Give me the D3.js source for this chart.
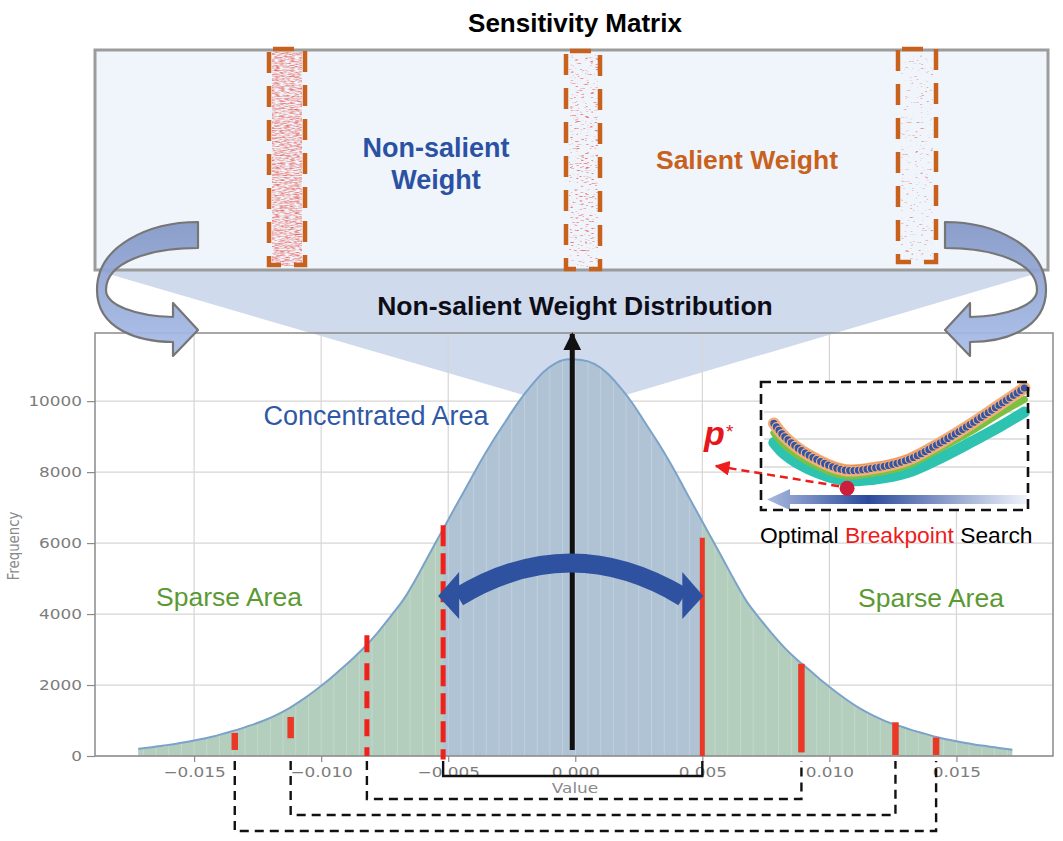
<!DOCTYPE html>
<html><head><meta charset="utf-8">
<script src="https://cdn.jsdelivr.net/npm/d3@7/dist/d3.min.js"></script>
<style>body{margin:0;background:#fff} svg{display:block}</style>
</head><body>
<svg id="c" width="1063" height="841"></svg>
<script>
// ---------------- data ----------------
const binStart = -0.0175, binWidth = 0.0005;
const frequency = [
  200,240,290,340,400,470,550,650,750,870,1000,1160,1350,1580,1840,2120,2430,2750,3100,3500,
  3950,4420,5020,5680,6330,6980,7620,8270,8870,9420,9960,10420,10820,11080,11180,
  11160,11050,10790,10400,9940,9390,8840,8240,7590,6930,6280,5630,4970,4350,3880,3440,
  3040,2700,2400,2090,1810,1550,1320,1130,970,850,730,630,530,450,380,320,270,220,170
];
const histRange = [-0.0172, 0.0172];
const xTicks = [-0.015, -0.010, -0.005, 0.000, 0.005, 0.010, 0.015];
const yTicks = [0, 2000, 4000, 6000, 8000, 10000];
const breakX      = [-0.0134, -0.0112, -0.0082, -0.0052, 0.0050, 0.0089, 0.0126, 0.0142];
const breakTop    = [650, 1100, 3400, 6500, 6150, 2600, 950, 520];
const breakBottom = [170, 500, 0, -100, 0, 100, 30, 30];
const breakDashed = [false, false, true, true, false, false, false, false];
const bracketPairs = [[-0.0052, 0.0050], [-0.0082, 0.0089], [-0.0112, 0.0126], [-0.0134, 0.0142]];
const bracketSolid = [true, false, false, false];
// inset (breakpoint search)
const insetT     = [0.015, 0.058, 0.15, 0.288, 0.404, 0.535, 0.662, 0.788, 0.892, 0.99];
const lossBlue   = [68, 56.7, 41.7, 29.2, 30.8, 37.5, 51.7, 68.3, 83.3, 97.5];
const lossOrange = [71.5, 60, 45, 32.5, 34, 40.8, 55, 71.5, 86.5, 100.5];
const lossGreen  = [60, 49.5, 36, 24.5, 26.5, 33, 47, 62, 76, 88];
const lossTeal   = [52, 42, 30, 20.5, 21.5, 27, 39, 53, 65, 77.5];
const optimalT = 0.30, optimalLoss = 14;

// ---------------- setup ----------------
const svg = d3.select("#c");
const defs = svg.append("defs");
const SANS = "'Liberation Sans', Arial, sans-serif";
const DJ = "'DejaVu Sans', sans-serif";
const STRETCH = 1.25;

const X = d3.scaleLinear().domain([-0.0189, 0.0188]).range([95, 1053]);
const Y = d3.scaleLinear().domain([0, 11920]).range([756, 333]);

// gradients
const ag = defs.append("linearGradient").attr("id","arrowGrad").attr("gradientUnits","userSpaceOnUse")
  .attr("x1",0).attr("y1",222).attr("x2",0).attr("y2",356);
ag.append("stop").attr("offset",0).attr("stop-color","#8497c6");
ag.append("stop").attr("offset",1).attr("stop-color","#a8bde9");
const sg = defs.append("linearGradient").attr("id","searchGrad").attr("gradientUnits","userSpaceOnUse")
  .attr("x1",767).attr("y1",0).attr("x2",1027).attr("y2",0);
sg.append("stop").attr("offset",0).attr("stop-color","#a9badf");
sg.append("stop").attr("offset",0.39).attr("stop-color","#2b4a9b");
sg.append("stop").attr("offset",1).attr("stop-color","#f0f4fb");

// noise filters for sensitivity columns
function noiseFilter(id, a, b, seed, color){
  const f = defs.append("filter").attr("id",id).attr("x","0%").attr("y","0%")
    .attr("width","100%").attr("height","100%").attr("color-interpolation-filters","sRGB");
  f.append("feTurbulence").attr("type","fractalNoise").attr("baseFrequency","0.2 0.85")
    .attr("numOctaves",2).attr("seed",seed).attr("result","t");
  f.append("feColorMatrix").attr("in","t").attr("type","matrix")
    .attr("values",`0 0 0 0 0  0 0 0 0 0  0 0 0 0 0  ${a} 0 0 0 ${b}`).attr("result","m");
  f.append("feFlood").attr("flood-color",color).attr("result","fl");
  f.append("feComposite").attr("in","fl").attr("in2","m").attr("operator","in");
}
noiseFilter("nDense", 2.0, -0.72, 4, "#e8605a");
noiseFilter("nSparse", 5, -2.95, 9, "#e87a76");
noiseFilter("nVery", 6, -3.9, 13, "#e09a98");

// clips
defs.append("clipPath").attr("id","histClip").append("rect")
  .attr("x",X(histRange[0])).attr("y",333).attr("width",X(histRange[1])-X(histRange[0])).attr("height",423);
defs.append("clipPath").attr("id","centerClip").append("rect")
  .attr("x",X(breakX[3])).attr("y",333).attr("width",X(breakX[4])-X(breakX[3])).attr("height",423);

// markers
defs.append("marker").attr("id","blackHead").attr("viewBox","0 0 10 10").attr("refX",9).attr("refY",5)
  .attr("markerUnits","userSpaceOnUse").attr("markerWidth",18).attr("markerHeight",18).attr("orient","auto")
  .append("path").attr("d","M0,0 L10,5 L0,10 Z").attr("fill","#111");
defs.append("marker").attr("id","redHead").attr("viewBox","0 0 10 10").attr("refX",9).attr("refY",5)
  .attr("markerUnits","userSpaceOnUse").attr("markerWidth",15).attr("markerHeight",15).attr("orient","auto")
  .append("path").attr("d","M0,0 L10,5 L0,10 Z").attr("fill","#ee1c1c");

// ---------------- plot background & funnel ----------------
svg.append("rect").attr("x",95).attr("y",333).attr("width",958).attr("height",423).attr("fill","#fff");
svg.append("polygon").attr("points","95,270 1048,270 575,410").attr("fill","#cbd7ea").attr("opacity",0.92);

// grid
const grid = svg.append("g").attr("stroke","#d6d6d6").attr("stroke-width",1.2);
grid.selectAll("line.v").data(xTicks).join("line").attr("x1",d=>X(d)).attr("x2",d=>X(d)).attr("y1",333).attr("y2",756);
grid.selectAll("line.h").data(yTicks).join("line").attr("y1",d=>Y(d)).attr("y2",d=>Y(d)).attr("x1",95).attr("x2",1053);

// ---------------- histogram ----------------
const bins = frequency.map((f,i)=>({x: binStart + binWidth*(i+0.5), f}));
const area = d3.area().x(d=>X(d.x)).y0(Y(0)).y1(d=>Y(d.f)).curve(d3.curveMonotoneX);
const line = d3.line().x(d=>X(d.x)).y(d=>Y(d.f)).curve(d3.curveMonotoneX);
defs.append("clipPath").attr("id","areaClip").append("path").attr("d",area(bins));

const hg = svg.append("g").attr("clip-path","url(#histClip)");
hg.append("path").attr("d",area(bins)).attr("fill","#b3cebd");
hg.append("g").attr("clip-path","url(#centerClip)").append("path").attr("d",area(bins)).attr("fill","#afc3d4");
const stripes = d3.range(bins.length+1).map(i=>binStart+i*binWidth);
hg.append("g").attr("clip-path","url(#areaClip)").selectAll("line").data(stripes).join("line")
  .attr("x1",d=>X(d)).attr("x2",d=>X(d)).attr("y1",333).attr("y2",756)
  .attr("stroke","#ffffff").attr("stroke-opacity",0.22).attr("stroke-width",1);
hg.append("path").attr("d",line(bins)).attr("fill","none").attr("stroke","#7ba2c9").attr("stroke-width",2);

// frame
svg.append("rect").attr("x",95).attr("y",333).attr("width",958).attr("height",423)
  .attr("fill","none").attr("stroke","#8a8a8a").attr("stroke-width",1.5);

// axes
const xAxis = svg.append("g").attr("transform","translate(0,756)")
  .call(d3.axisBottom(X).tickValues(xTicks).tickFormat(d3.format(".3f")).tickSize(6).tickPadding(5));
const yAxis = svg.append("g").attr("transform","translate(95,0)")
  .call(d3.axisLeft(Y).tickValues(yTicks).tickFormat(d3.format("d")).tickSize(8).tickPadding(2.4));
[xAxis,yAxis].forEach(a=>{
  a.select(".domain").remove();
  a.selectAll(".tick line").attr("stroke","#8a8a8a").attr("stroke-width",1.2);
  a.selectAll(".tick text").attr("fill","#7c7c7c").style("font-family",DJ).style("font-size","13.5px")
    .attr("transform",`scale(${STRETCH},1)`);
});
svg.append("text").attr("transform",`translate(575,793) scale(${STRETCH},1)`).attr("text-anchor","middle").attr("fill","#8a8a8a")
  .style("font-family",DJ).style("font-size","13.5px").text("Value");
svg.append("text").attr("transform","translate(19,546) rotate(-90) scale(1,1.15)").attr("text-anchor","middle").attr("fill","#8a8a8a")
  .style("font-family",DJ).style("font-size","13.3px").text("Frequency");

// ---------------- top panel ----------------
svg.append("text").attr("x",575).attr("y",32).attr("text-anchor","middle").attr("fill","#000")
  .style("font-family",SANS).style("font-weight","bold").style("font-size","26px").text("Sensitivity Matrix");
svg.append("rect").attr("x",95).attr("y",50).attr("width",953).attr("height",220)
  .attr("fill","#f0f5fc").attr("stroke","#9c9c9c").attr("stroke-width",3);

const cols = [
  {x:272, y:52, w:30, h:214, f:"nDense", bx:269, by:49, bw:36, bh:216},
  {x:569, y:55, w:29, h:213, f:"nSparse", bx:566, by:51, bw:34, bh:218},
  {x:901, y:55, w:32, h:206, f:"nVery", bx:898, by:49, bw:38, bh:213}
];
cols.forEach(c=>{
  svg.append("rect").attr("x",c.x).attr("y",c.y).attr("width",c.w).attr("height",c.h)
    .attr("fill","#fff").attr("filter",`url(#${c.f})`);
  svg.append("rect").attr("x",c.bx).attr("y",c.by).attr("width",c.bw).attr("height",c.bh)
    .attr("fill","none").attr("stroke","#c8611c").attr("stroke-width",4.5)
    .attr("stroke-dasharray","21 13").attr("stroke-dashoffset",-4);
});
svg.append("text").attr("x",436).attr("y",157).attr("text-anchor","middle").attr("fill","#2b52a2")
  .style("font-family",SANS).style("font-weight","bold").style("font-size","27px").text("Non-salient");
svg.append("text").attr("x",436).attr("y",189).attr("text-anchor","middle").attr("fill","#2b52a2")
  .style("font-family",SANS).style("font-weight","bold").style("font-size","27px").text("Weight");
svg.append("text").attr("x",747).attr("y",169).attr("text-anchor","middle").attr("fill","#c8611c")
  .style("font-family",SANS).style("font-weight","bold").style("font-size","26.5px").text("Salient Weight");

// curved arrows
const curvedArrow = "M198,222 C150,222 97,245 97,290 C97,330 140,342 173,342 L173,356 L198,330 L173,303 L173,317 C135,316 106,305 106,290 C106,262 150,248 198,248 Z";
svg.append("path").attr("d",curvedArrow).attr("fill","url(#arrowGrad)").attr("fill-opacity",0.93)
  .attr("stroke","#767676").attr("stroke-width",2.2).attr("stroke-linejoin","round");
svg.append("path").attr("d",curvedArrow).attr("transform","translate(1143,0) scale(-1,1)")
  .attr("fill","url(#arrowGrad)").attr("fill-opacity",0.93)
  .attr("stroke","#767676").attr("stroke-width",2.2).attr("stroke-linejoin","round");

svg.append("text").attr("x",575).attr("y",315).attr("text-anchor","middle").attr("fill","#0d0d18")
  .style("font-family",SANS).style("font-weight","bold").style("font-size","26.5px").text("Non-salient Weight Distribution");

// ---------------- annotations in plot ----------------
svg.append("text").attr("x",376).attr("y",425).attr("text-anchor","middle").attr("fill","#2f58a6")
  .style("font-family",SANS).style("font-size","27px").text("Concentrated Area");
svg.append("text").attr("x",229).attr("y",606).attr("text-anchor","middle").attr("fill","#5b9a32")
  .style("font-family",SANS).style("font-size","26.5px").text("Sparse Area");
svg.append("text").attr("x",931).attr("y",607).attr("text-anchor","middle").attr("fill","#5b9a32")
  .style("font-family",SANS).style("font-size","26.5px").text("Sparse Area");

// red breakpoint bars
breakX.forEach((bx,i)=>{
  svg.append("line").attr("x1",X(bx)).attr("x2",X(bx)).attr("y1",Y(breakTop[i])).attr("y2",Y(breakBottom[i]))
    .attr("stroke",breakDashed[i] ? "#f0201c" : "#ea3826")
    .attr("stroke-width", i===4 ? 5 : (breakDashed[i] ? 5 : 6.5))
    .attr("stroke-dasharray", breakDashed[i] ? (i===2 ? "17 11" : "21 7") : null);
});

// black vertical arrow
svg.append("line").attr("x1",X(0)-3).attr("x2",X(0)-3).attr("y1",750).attr("y2",334)
  .attr("stroke","#111").attr("stroke-width",5).attr("marker-end","url(#blackHead)");

// blue curved double arrow
const xl = X(breakX[3]) - 5, xr = X(breakX[4]) + 1;
svg.append("path").attr("d",`M${xl+20},597 Q${(xl+xr)/2},529 ${xr-20},597`)
  .attr("fill","none").attr("stroke","#2e52a0").attr("stroke-width",19);
svg.append("path").attr("d",`M${xl},596 L${xl+21},572 L${xl+21},619 Z`).attr("fill","#2e52a0");
svg.append("path").attr("d",`M${xr},596 L${xr-21},572 L${xr-21},619 Z`).attr("fill","#2e52a0");

// brackets below axis
const bracketY = [776, 799, 815, 831];
bracketPairs.forEach((p,i)=>{
  svg.append("path").attr("d",`M${X(p[0])},761 V${bracketY[i]} H${X(p[1])} V761`)
    .attr("fill","none").attr("stroke","#111").attr("stroke-width",2.4)
    .attr("stroke-dasharray", bracketSolid[i] ? null : "9 6");
});

// ---------------- inset ----------------
const IX = d3.scaleLinear().domain([0,1]).range([770,1027]);
const IY = d3.scaleLinear().domain([0,100]).range([505,385]);
svg.append("rect").attr("x",761).attr("y",382).attr("width",267).attr("height",128).attr("fill","#fff");
[412,439,467].forEach(gy=>svg.append("line").attr("x1",764).attr("x2",1026).attr("y1",gy).attr("y2",gy)
  .attr("stroke","#d9d9d9").attr("stroke-width",1.5));
const iline = d3.line().x(d=>IX(d[0])).y(d=>IY(d[1])).curve(d3.curveCatmullRom.alpha(0.5));
const zipT = arr => insetT.map((t,i)=>[t,arr[i]]);
svg.append("path").attr("d",iline(zipT(lossTeal))).attr("fill","none").attr("stroke","#2ec3b1").attr("stroke-width",11).attr("stroke-linecap","round");
svg.append("path").attr("d",iline(zipT(lossGreen))).attr("fill","none").attr("stroke","#7cc043").attr("stroke-width",7).attr("stroke-linecap","round");
svg.append("path").attr("d",iline(zipT(lossBlue))).attr("fill","none").attr("stroke","#f5b07a").attr("stroke-width",12).attr("stroke-linecap","round");
svg.append("path").attr("d",iline(zipT(lossOrange))).attr("fill","none").attr("stroke","#ef8230").attr("stroke-width",2.5);
const bluePath = svg.append("path").attr("d",iline(zipT(lossBlue))).attr("fill","none").attr("stroke","none");
const L = bluePath.node().getTotalLength();
const nDots = Math.round(L/4.4);
const dotPts = d3.range(nDots+1).map(k=>bluePath.node().getPointAtLength(L*k/nDots));
svg.append("g").selectAll("circle").data(dotPts).join("circle")
  .attr("cx",d=>d.x).attr("cy",d=>d.y).attr("r",4.2)
  .attr("fill","#3455a5").attr("stroke","#f5b07a").attr("stroke-width",1.2);
// search arrow
svg.append("path").attr("d","M1027,495 L790,495 L790,489 L767,499.5 L790,510 L790,504 L1027,504 Z").attr("fill","url(#searchGrad)");
// red dashed arrow and optimum
svg.append("line").attr("x1",IX(optimalT)-8).attr("y1",IY(optimalLoss)-2).attr("x2",716).attr("y2",466)
  .attr("stroke","#ee1c1c").attr("stroke-width",2.5).attr("stroke-dasharray","8 5").attr("marker-end","url(#redHead)");
svg.append("circle").attr("cx",IX(optimalT)).attr("cy",IY(optimalLoss)).attr("r",7.5).attr("fill","#cc1d3a");
svg.append("rect").attr("x",761).attr("y",382).attr("width",267).attr("height",128)
  .attr("fill","none").attr("stroke","#111").attr("stroke-width",2.6).attr("stroke-dasharray","10 6");
svg.append("text").attr("x",704).attr("y",445).attr("fill","#e8141c")
  .style("font-family",SANS).style("font-weight","bold").style("font-style","italic").style("font-size","34px").text("p");
svg.append("text").attr("x",726).attr("y",438).attr("fill","#e8141c")
  .style("font-family",SANS).style("font-size","19px").text("*");
const ot = svg.append("text").attr("x",760).attr("y",543).attr("fill","#000")
  .style("font-family",SANS).style("font-size","22.8px");
ot.append("tspan").text("Optimal ");
ot.append("tspan").attr("fill","#ee1c1c").text("Breakpoint");
ot.append("tspan").text(" Search");
</script>
</body></html>
